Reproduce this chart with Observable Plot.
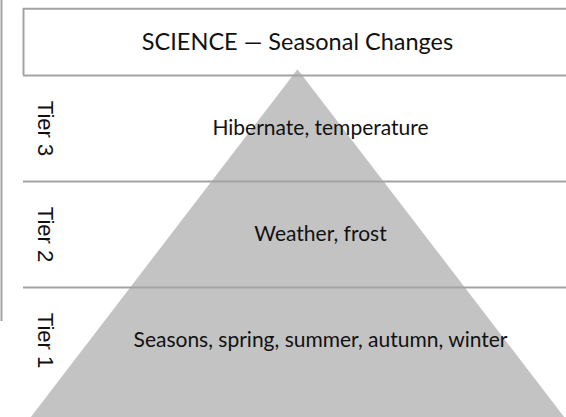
<!DOCTYPE html>
<html><head><meta charset="utf-8">
<script src="https://cdn.jsdelivr.net/npm/d3@7"></script>
<script src="https://cdn.jsdelivr.net/npm/@observablehq/plot@0.6"></script>
<style>html,body{margin:0;padding:0;background:#fff}</style>
</head><body><div id="chart"></div>
<script>
// ---- data ----
const title = "SCIENCE — Seasonal Changes";
const tierNames = ["Tier 1", "Tier 2", "Tier 3"];
const tierLevels = [1, 2, 3];
const tierWords = [
  "Seasons, spring, summer, autumn, winter",
  "Weather, frost",
  "Hibernate, temperature"
];

// ---- layout (scale units: x = px offset from pyramid centre, y = tier level) ----
const W = 566, H = 417;
const yMin = 0.274, yMax = 4.2075;
const apexY = 3.56, baseHalf = 267;
const leftEdge = -274, rightEdge = 300;
const boxBottom = 3.5, boxTop = 4.13;
const lineColor = "#a3a3a3";

const tiers = tierLevels.map((l, i) => ({level: l, name: tierNames[i], words: tierWords[i]}));
const bounds = tierLevels.slice(0, -1).map(l => l + 0.5);

const pyramid = [
  {x: 0, y: apexY},
  {x: -baseHalf, y: yMin},
  {x: baseHalf, y: yMin},
  {x: 0, y: apexY}
];

const handFont = "Lato, 'Open Sans', sans-serif";

const plot = Plot.plot({
  width: W, height: H,
  margin: 0,
  x: {domain: [-297, 269], axis: null},
  y: {domain: [yMin, yMax], axis: null},
  style: {background: "#fff"},
  marks: [
    Plot.line(pyramid, {x: "x", y: "y", fill: "#c3c3c3", stroke: null}),
    Plot.ruleY(bounds, {x1: leftEdge, x2: rightEdge, stroke: lineColor, strokeWidth: 2}),
    Plot.ruleY([boxBottom, boxTop], {x1: leftEdge, x2: rightEdge, stroke: lineColor, strokeWidth: 2}),
    Plot.ruleX([leftEdge], {y1: boxBottom, y2: boxTop, stroke: lineColor, strokeWidth: 2}),
    Plot.ruleX([-296], {y1: 1.18, y2: yMax, stroke: lineColor, strokeWidth: 2}),
    Plot.text([title], {x: 0, y: 3.81, text: d => d, fontSize: 23.5, fill: "#111", fontFamily: handFont}),
    Plot.text(tiers, {x: 23, y: "level", text: "words", fontSize: 21, fill: "#111", fontFamily: handFont}),
    Plot.text(tiers, {x: -252, y: "level", text: "name", rotate: 90, fontSize: 22, fill: "#111", fontFamily: "'Liberation Sans', Arial, sans-serif"})
  ]
});
document.getElementById("chart").appendChild(plot);
</script>
</body></html>
